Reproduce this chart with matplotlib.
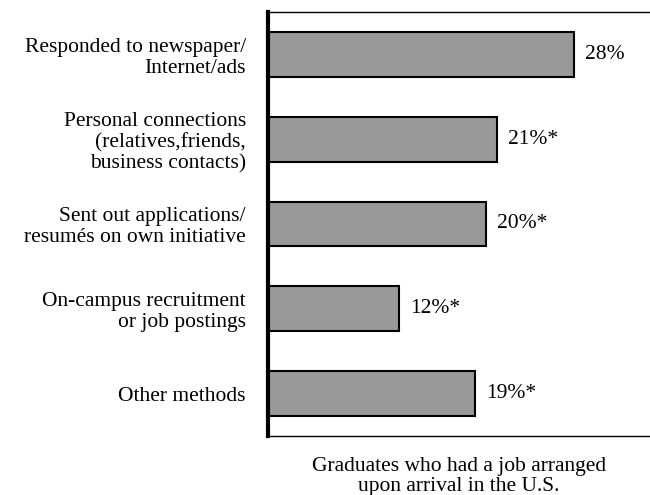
import matplotlib
matplotlib.use("Agg")
import matplotlib.pyplot as plt

categories = [
    "Responded to newspaper/\nInternet/ads",
    "Personal connections\n(relatives,friends,\nbusiness contacts)",
    "Sent out applications/\nresumés on own initiative",
    "On-campus recruitment\nor job postings",
    "Other methods",
]
values = [28, 21, 20, 12, 19]
value_labels = ["28%", "21%*", "20%*", "12%*", "19%*"]
xlabel = "Graduates who had a job arranged\nupon arrival in the U.S."

plt.rcParams["font.family"] = ["Liberation Serif", "DejaVu Serif"]
FS = 15.5

fig = plt.figure(figsize=(6.5, 4.95), dpi=100)
ax = fig.add_axes([268 / 650, 1 - 436 / 495, 1 - 268 / 650, (436 - 12) / 495])

ypos = list(range(len(categories)))
ax.barh(ypos, values, height=0.53, color="#999999", edgecolor="black", linewidth=1.5)

for y, v, lab in zip(ypos, values, value_labels):
    ax.text(v + 1.0, y, lab, va="center", ha="left", fontsize=FS)

ax.set_xlim(0, 35)
ax.set_ylim(4.5, -0.5)
ax.set_yticks(ypos)
ax.set_yticklabels(categories, fontsize=FS, ha="right", linespacing=1.12)
ax.tick_params(axis="y", length=0, pad=16)
ax.set_xticks([])

ax.spines["right"].set_visible(False)
ax.spines["left"].set_linewidth(3)
ax.spines["top"].set_linewidth(1)
ax.spines["bottom"].set_linewidth(1)

ax.set_xlabel(xlabel, fontsize=FS, labelpad=15, linespacing=1.1)

fig.savefig("out.png", dpi=100)
